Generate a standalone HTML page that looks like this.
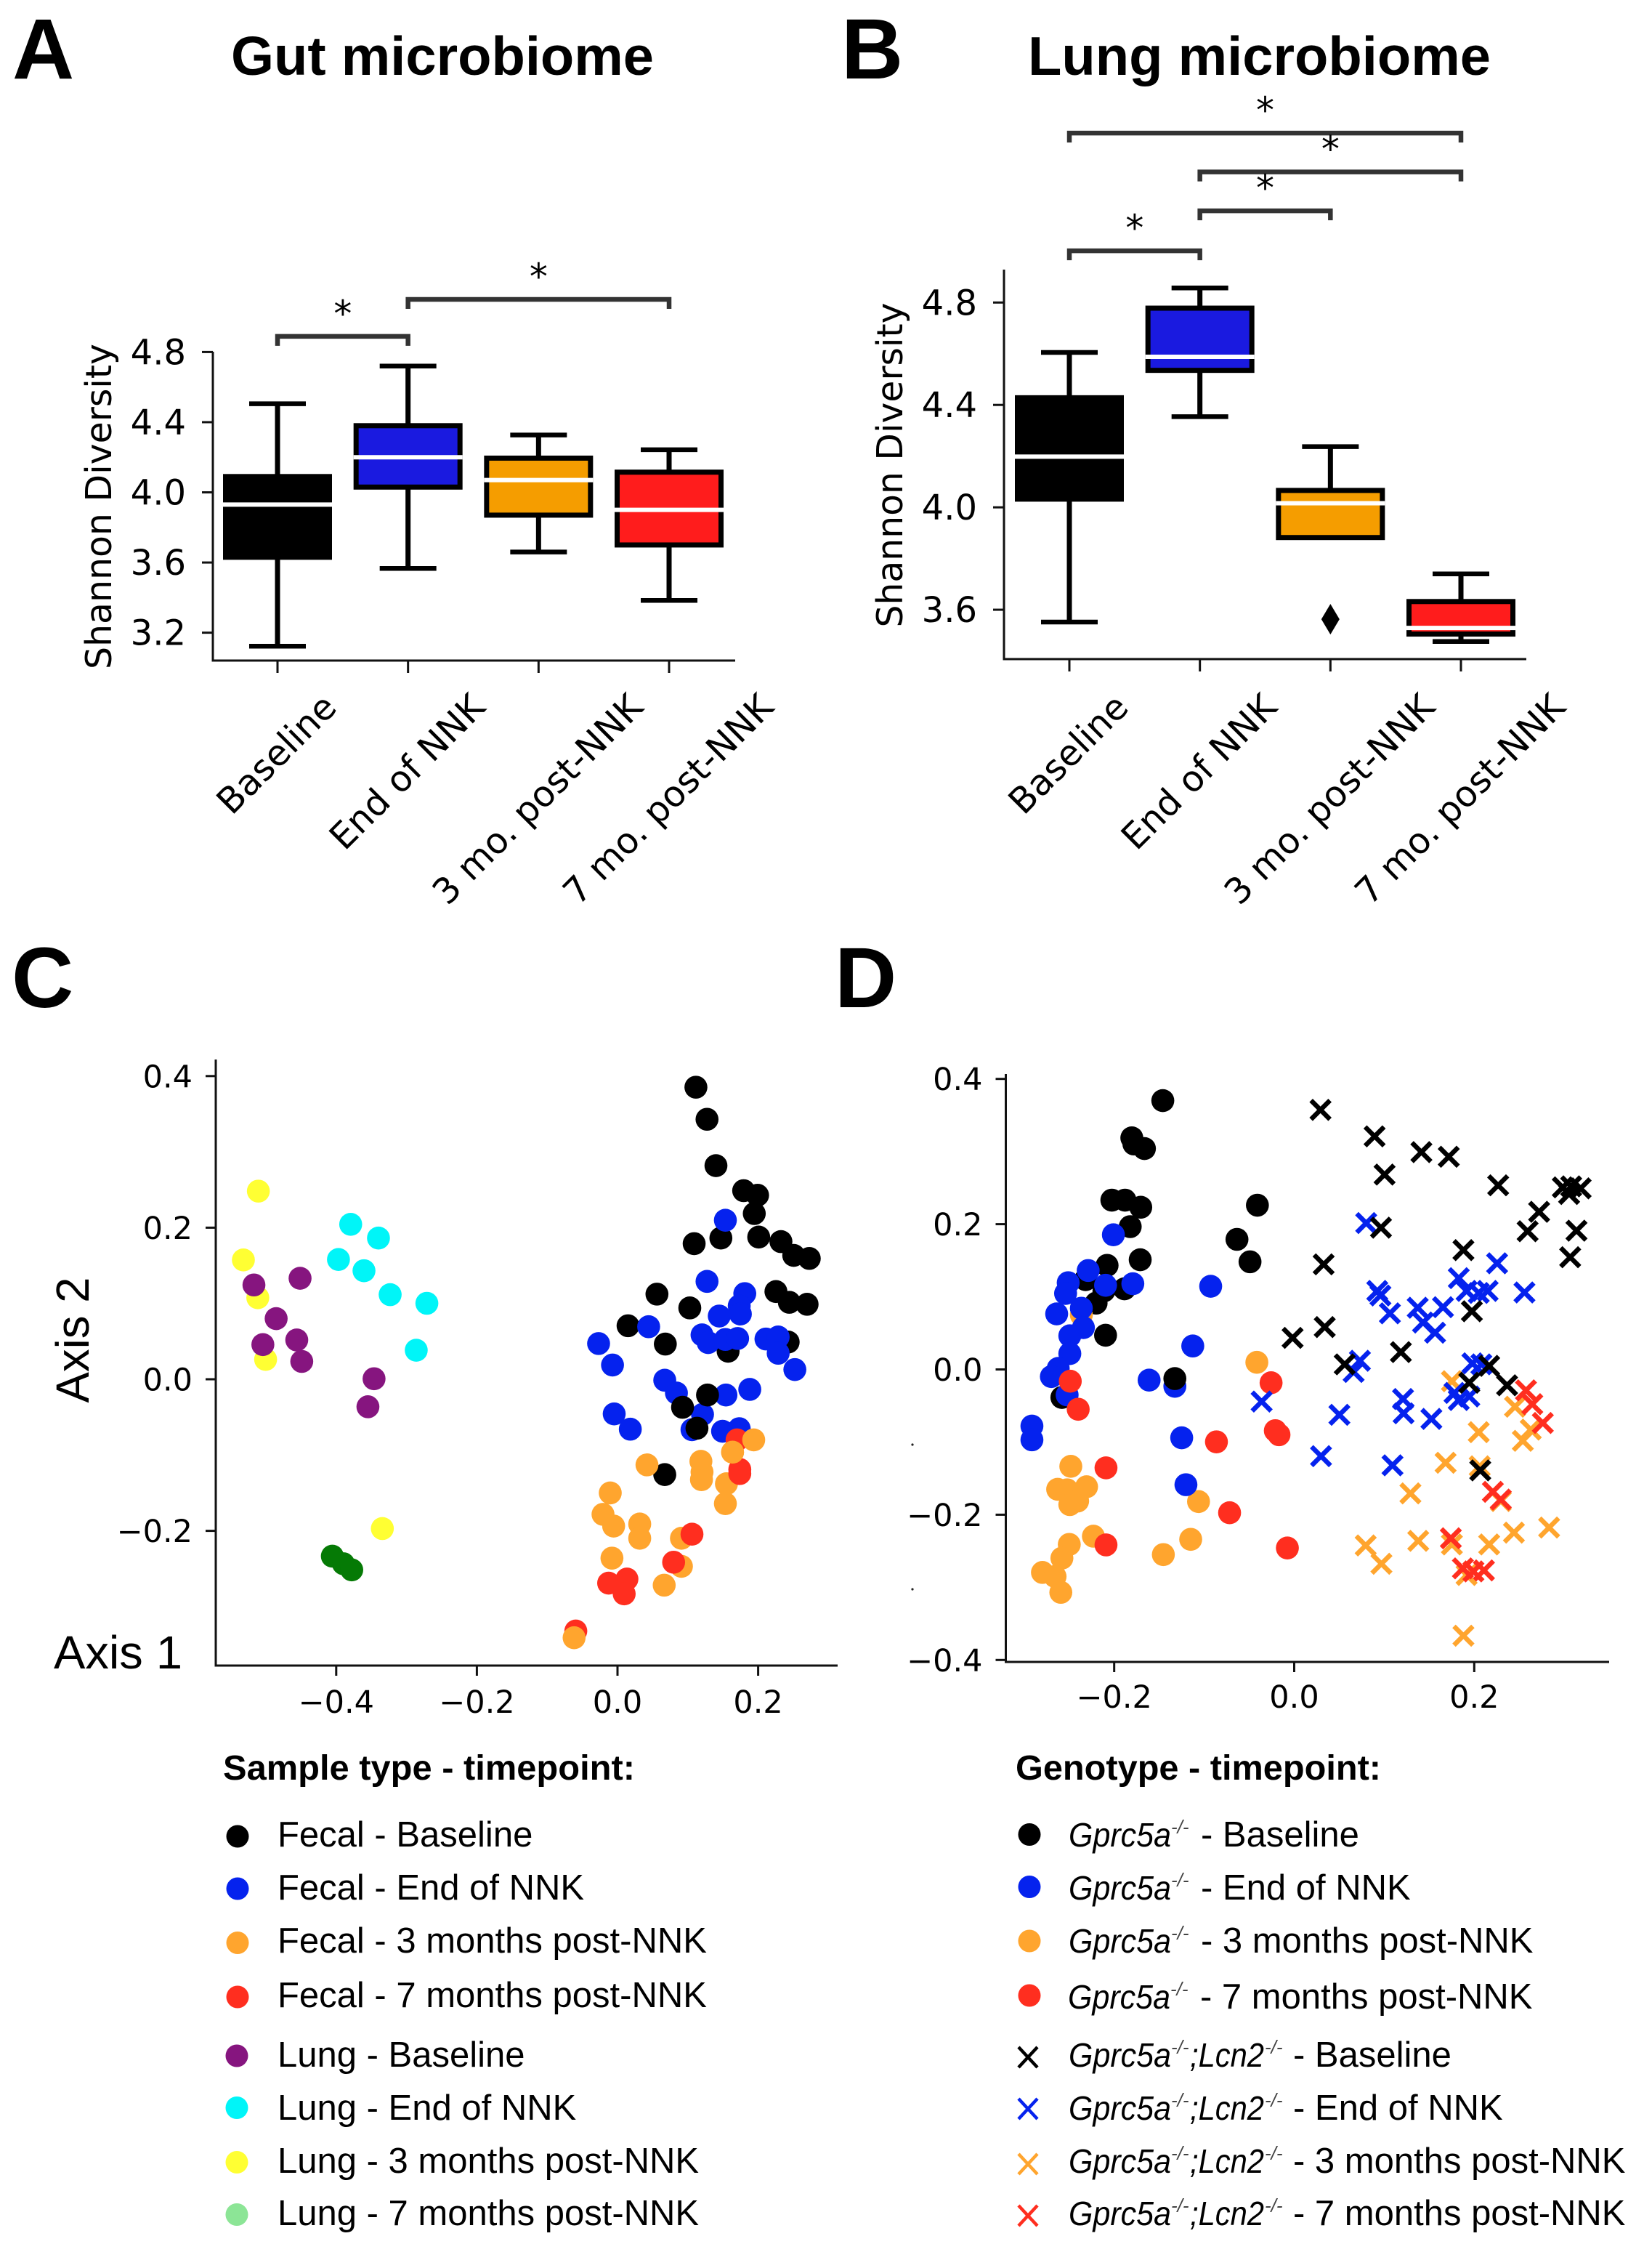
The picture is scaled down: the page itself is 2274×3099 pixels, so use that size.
<!DOCTYPE html>
<html lang="en">
<head>
<meta charset="utf-8">
<title>Gut and lung microbiome diversity</title>
<style>
html,body{margin:0;padding:0;background:#fff;}
svg{display:block;}
text{fill:#000;font-family:"Liberation Sans",sans-serif;}
.panel{font-weight:bold;font-size:118px;}
.title{font-weight:bold;font-size:75px;}
.dj text,.dj{font-family:"DejaVu Sans",sans-serif;}
.legt{font-weight:bold;font-size:48px;}
.lab{font-size:49px;}
.gene{font-size:46px;font-style:italic;}
.sup{font-size:26px;font-style:italic;fill:#444;}
</style>
</head>
<body>
<svg id="figure" xmlns="http://www.w3.org/2000/svg" width="2274" height="3099" viewBox="0 0 2274 3099">
<rect x="0" y="0" width="2274" height="3099" fill="#fff"/>

<text class="panel" x="17" y="108">A</text>
<text class="panel" x="1158" y="108">B</text>
<text class="panel" x="16" y="1386">C</text>
<text class="panel" x="1149" y="1386">D</text>

<text class="title" x="318" y="103" textLength="582" lengthAdjust="spacingAndGlyphs">Gut microbiome</text>
<text class="title" x="1415" y="103" textLength="637" lengthAdjust="spacingAndGlyphs">Lung microbiome</text>

<g id="panelA" class="dj">
  <text transform="translate(153,697) rotate(-90)" text-anchor="middle" font-size="49" textLength="448" lengthAdjust="spacingAndGlyphs">Shannon Diversity</text>
</g>
<g id="panelB" class="dj">
  <text transform="translate(1242,640) rotate(-90)" text-anchor="middle" font-size="49" textLength="447" lengthAdjust="spacingAndGlyphs">Shannon Diversity</text>
</g>

<g id="panelC" class="dj"></g>
<text transform="translate(122,1844) rotate(-90)" text-anchor="middle" font-size="64" textLength="173" lengthAdjust="spacingAndGlyphs">Axis 2</text>
<text x="74" y="2296" font-size="64" textLength="177" lengthAdjust="spacingAndGlyphs">Axis 1</text>

<g id="panelD" class="dj"></g>
<circle cx="1256" cy="1988" r="1.6" fill="#222"/>
<circle cx="1256" cy="2187" r="1.6" fill="#222"/>

<!-- Legend: sample type -->
<g>
  <text class="legt" x="307" y="2449" textLength="567" lengthAdjust="spacingAndGlyphs">Sample type - timepoint:</text>
  <g><circle cx="327" cy="2527" r="15.5" fill="#000"/><text class="lab" x="382" y="2541">Fecal - Baseline</text></g>
  <g><circle cx="327" cy="2599" r="15.5" fill="#0522ee"/><text class="lab" x="382" y="2614">Fecal - End of NNK</text></g>
  <g><circle cx="327" cy="2673.5" r="15.5" fill="#ffa52e"/><text class="lab" x="382" y="2687">Fecal - 3 months post-NNK</text></g>
  <g><circle cx="327" cy="2748" r="15.5" fill="#ff2e1f"/><text class="lab" x="382" y="2762">Fecal - 7 months post-NNK</text></g>
  <g><circle cx="326" cy="2829" r="15.5" fill="#86157f"/><text class="lab" x="382" y="2844">Lung - Baseline</text></g>
  <g><circle cx="326" cy="2900.5" r="15.5" fill="#00f5f8"/><text class="lab" x="382" y="2917">Lung - End of NNK</text></g>
  <g><circle cx="326" cy="2975.5" r="15.5" fill="#ffff33"/><text class="lab" x="382" y="2990">Lung - 3 months post-NNK</text></g>
  <g><circle cx="326" cy="3047.5" r="15.5" fill="#8ce596"/><text class="lab" x="382" y="3062">Lung - 7 months post-NNK</text></g>
</g>

<!-- Legend: genotype -->
<g>
  <text class="legt" x="1398" y="2449" textLength="503" lengthAdjust="spacingAndGlyphs">Genotype - timepoint:</text>

  <g><circle cx="1417" cy="2524.5" r="15.5" fill="#000"/>
    <text class="gene" x="1471" y="2541" textLength="141" lengthAdjust="spacingAndGlyphs">Gprc5a</text><text class="sup" x="1612" y="2523">-/-</text><text class="lab" x="1653" y="2541">- Baseline</text></g>
  <g><circle cx="1417" cy="2596.5" r="15.5" fill="#0522ee"/>
    <text class="gene" x="1471" y="2614" textLength="141" lengthAdjust="spacingAndGlyphs">Gprc5a</text><text class="sup" x="1612" y="2596">-/-</text><text class="lab" x="1653" y="2614">- End of NNK</text></g>
  <g><circle cx="1417" cy="2671" r="15.5" fill="#ffa52e"/>
    <text class="gene" x="1471" y="2687" textLength="141" lengthAdjust="spacingAndGlyphs">Gprc5a</text><text class="sup" x="1612" y="2669">-/-</text><text class="lab" x="1653" y="2687">- 3 months post-NNK</text></g>
  <g><circle cx="1417" cy="2746" r="15.5" fill="#ff2e1f"/>
    <text class="gene" x="1470" y="2764" textLength="141" lengthAdjust="spacingAndGlyphs">Gprc5a</text><text class="sup" x="1611" y="2746">-/-</text><text class="lab" x="1652" y="2764">- 7 months post-NNK</text></g>

  <g><path d="M1402,2817 L1428,2845 M1428,2817 L1402,2845" stroke="#000" stroke-width="4.5" fill="none"/>
    <text class="gene" x="1471" y="2844" textLength="141" lengthAdjust="spacingAndGlyphs">Gprc5a</text><text class="sup" x="1612" y="2826">-/-</text><text class="gene" x="1638" y="2844" textLength="102" lengthAdjust="spacingAndGlyphs">;Lcn2</text><text class="sup" x="1741" y="2826">-/-</text><text class="lab" x="1780" y="2844">- Baseline</text></g>
  <g><path d="M1402,2888 L1428,2916 M1428,2888 L1402,2916" stroke="#0522ee" stroke-width="4.5" fill="none"/>
    <text class="gene" x="1471" y="2917" textLength="141" lengthAdjust="spacingAndGlyphs">Gprc5a</text><text class="sup" x="1612" y="2899">-/-</text><text class="gene" x="1638" y="2917" textLength="102" lengthAdjust="spacingAndGlyphs">;Lcn2</text><text class="sup" x="1741" y="2899">-/-</text><text class="lab" x="1780" y="2917">- End of NNK</text></g>
  <g><path d="M1402,2964 L1428,2992 M1428,2964 L1402,2992" stroke="#ffa52e" stroke-width="4.5" fill="none"/>
    <text class="gene" x="1471" y="2990" textLength="141" lengthAdjust="spacingAndGlyphs">Gprc5a</text><text class="sup" x="1612" y="2972">-/-</text><text class="gene" x="1638" y="2990" textLength="102" lengthAdjust="spacingAndGlyphs">;Lcn2</text><text class="sup" x="1741" y="2972">-/-</text><text class="lab" x="1780" y="2990">- 3 months post-NNK</text></g>
  <g><path d="M1402,3035 L1428,3063 M1428,3035 L1402,3063" stroke="#ff2e1f" stroke-width="4.5" fill="none"/>
    <text class="gene" x="1471" y="3062" textLength="141" lengthAdjust="spacingAndGlyphs">Gprc5a</text><text class="sup" x="1612" y="3044">-/-</text><text class="gene" x="1638" y="3062" textLength="102" lengthAdjust="spacingAndGlyphs">;Lcn2</text><text class="sup" x="1741" y="3044">-/-</text><text class="lab" x="1780" y="3062">- 7 months post-NNK</text></g>
</g>
</svg>

<script>
// ---------- Box plot data ----------
const boxCategories = ['Baseline', 'End of NNK', '3 mo. post-NNK', '7 mo. post-NNK'];
const boxColors = ['#000000', '#1a1ae0', '#f59d00', '#ff1c1c'];

const gutWhiskerLow = [3.123, 3.566, 3.66, 3.384];
const gutQ1 = [3.63, 4.03, 3.87, 3.70];
const gutMedian = [3.93, 4.20, 4.07, 3.90];
const gutQ3 = [4.09, 4.38, 4.195, 4.115];
const gutWhiskerHigh = [4.505, 4.72, 4.327, 4.243];
const gutYTicks = ['3.2', '3.6', '4.0', '4.4', '4.8'];
const gutBracketFrom = [0, 1];
const gutBracketTo = [1, 3];
const gutBracketLevel = [4.889, 5.10];

const lungWhiskerLow = [3.552, 4.354, 3.882, 3.476];
const lungQ1 = [4.032, 4.535, 3.882, 3.505];
const lungMedian = [4.198, 4.588, 4.016, 3.529];
const lungQ3 = [4.428, 4.778, 4.066, 3.632];
const lungWhiskerHigh = [4.605, 4.857, 4.237, 3.74];
const lungOutlierCategory = [2];
const lungOutlierValue = [3.563];
const lungYTicks = ['3.6', '4.0', '4.4', '4.8'];
const lungBracketFrom = [0, 1, 1, 0];
const lungBracketTo = [3, 3, 2, 1];
const lungBracketLevel = [5.462, 5.31, 5.158, 5.002];

// ---------- Panel C data (axis 1, axis 2) ----------
const fecalBaseline = [[.1115,.3853],[.1273,.343],[.14,.2818],[.1794,.2488],[.1992,.2428],[.1945,.2186],[.147,.1863],[.109,.1789],[.2008,.1876],[.2324,.1816],[.2506,.1634],[.2727,.1594],[.0561,.1123],[.1028,.0941],[.2253,.1157],[.2443,.1015],[.2696,.0989],[.015,.0706],[.068,.0464],[.1573,.037],[.2427,.0491],[.0672,-.1258]];
const fecalEnd = [[.1534,.2098],[.1273,.1291],[.181,.113],[.1731,.0968],[.1447,.0834],[.1747,.0861],[.0443,.0693],[-.0269,.0471],[.1202,.0585],[.1289,.0484],[.1534,.0525],[.1708,.0538],[.2111,.0531],[.2285,.0558],[.2285,.0343],[-.0071,.0188],[.2522,.0128],[.0672,-.0013],[.0838,-.0182],[.1542,-.0208],[.1881,-.0134],[.1209,-.0464],[-.0047,-.0457],[.0182,-.0659],[.1059,-.0666],[.1494,-.0686],[.1731,-.0652]];
const fecalBaselineOverlay = [[.128,-.0208],[.0925,-.037],[.113,-.0646]];
const fecal3mo = [[.1636,-.0962],[.0419,-.113],[.1186,-.1083],[.1202,-.1224],[.1194,-.1325],[.1549,-.1379],[.1534,-.1641],[-.0103,-.15],[-.0206,-.1782],[-.0055,-.1937],[.0316,-.191],[.0316,-.2098],[.0909,-.2098],[-.0079,-.236],[.0909,-.2468],[.0664,-.2717]];
const fecal7mo = [[.17,-.08],[.1739,-.119],[.1739,-.1244],[.1059,-.2044],[.0798,-.2414],[-.0126,-.269],[.0134,-.2636],[.0095,-.2831],[-.0593,-.3322]];
const fecal3moOverlay = [[.1937,-.08],[.1636,-.0962],[-.0617,-.341]];
const lung3mo = [[-.5107,.2482],[-.532,.1574],[-.5115,.1076],[-.5004,.0262],[-.3344,-.197]];
const lungBaseline = [[-.517,.1244],[-.4514,.1332],[-.4854,.08],[-.5043,.0457],[-.4561,.0518],[-.449,.0235],[-.3462,.0007],[-.3549,-.0363]];
const lungEnd = [[-.3794,.2044],[-.3399,.1863],[-.3968,.158],[-.3605,.1432],[-.3233,.1116],[-.2711,.1002],[-.2862,.0383]];
const lung7mo = [[-.4055,-.2334],[-.3897,-.2434],[-.3779,-.2515]];
const cXTicks = ['\u22120.4', '\u22120.2', '0.0', '0.2'];
const cYTicks = ['\u22120.2', '0.0', '0.2', '0.4'];

// ---------- Panel D data (axis 1, axis 2) ----------
const gprcBaseline = [[-.146,.3701],[-.1804,.3188],[-.1781,.3104],[-.1664,.3041],[-.2026,.2331],[-.188,.2331],[-.1705,.2233],[-.1822,.1966],[-.0409,.2261],[-.0636,.1791],[-.0491,.1482],[-.1711,.151],[-.2079,.1433],[-.2318,.1236],[-.1886,.111],[-.2114,.1081],[-.2201,.0913],[-.2096,.0471],[-.2581,-.0386]];
const gprc3mo = [[-.2365,.0751],[-.0415,.0098],[-.2482,-.1334],[-.2628,-.165],[-.2523,-.1657],[-.2307,-.1615],[-.2406,-.1812],[-.2493,-.1861],[-.1063,-.1819],[-.2231,-.2296],[-.2499,-.2409],[-.2581,-.2598],[-.2797,-.2795],[-.2657,-.2851],[-.2593,-.3069],[-.1454,-.2549],[-.115,-.2339]];
const gprcEnd = [[-.2009,.1854],[-.2289,.1362],[-.2511,.1194],[-.254,.1046],[-.2096,.1159],[-.1793,.118],[-.0928,.1145],[-.2639,.0765],[-.2365,.0843],[-.2342,.0576],[-.2493,.0463],[-.2493,.0218],[-.2622,.0014],[-.2698,-.0098],[-.1127,.0323],[-.1612,-.0147],[-.1326,-.0232],[-.2523,-.0351],[-.2914,-.078],[-.2914,-.0969],[-.125,-.0941],[-.1203,-.1587]];
const gprcBaselineOverlay = [[-.1326,-.0126]];
const gprc7mo = [[-.2488,-.0162],[-.24,-.0548],[-.0257,-.0183],[-.021,-.0843],[-.0169,-.0899],[-.0864,-.0997],[-.2091,-.1355],[-.0718,-.1973],[-.2091,-.2416],[-.0076,-.2458]];
const doubleKo3mo = [[.1752,-.0162],[.2453,-.0513],[.2628,-.0829],[.254,-.0983],[.205,-.0864],[.1682,-.1285],[.2061,-.1334],[.1291,-.1706],[.0794,-.2423],[.0969,-.2676],[.1378,-.236],[.1752,-.2409],[.2166,-.2409],[.2441,-.2247],[.2832,-.2177],[.1915,-.283],[.188,-.3666],[.2295,-.1812]];
const doubleKoEnd = [[.08,.2015],[.0923,.1081],[.0958,.1018],[.1063,.0772],[.1372,.085],[.1431,.0646],[.1565,.0506],[.1653,.0857],[.1828,.1257],[.1915,.1081],[.205,.1053],[.2149,.1081],[.2254,.1461],[.2558,.106],[.073,.0119],[.066,-.0035],[-.0362,-.0442],[.0502,-.0625],[.0298,-.1194],[.1209,-.0407],[.1215,-.0604],[.1092,-.132],[.1524,-.0681],[.1781,-.0323],[.1828,-.0421],[.1945,-.0372],[.198,.0084],[.2079,.007]];
const doubleKoBaseline = [[.0292,.3574],[.0893,.3209],[.1004,.2683],[.1413,.2992],[.1717,.2928],[.2266,.2535],[.2984,.2507],[.3054,.2416],[.3077,.2521],[.3182,.2493],[.2721,.217],[.2593,.1903],[.3136,.191],[.3066,.1545],[.0964,.1952],[.188,.1643],[.0327,.1447],[.1974,.0801],[.0339,.0583],[-.0018,.0435],[.0561,.007],[.1185,.0239],[.2166,.0049],[.1945,-.0183],[.2365,-.0218],[.2067,-.139]];
const doubleKo7mo = [[.2575,-.0288],[.2645,-.0478],[.2762,-.0737],[.2207,-.1685],[.2295,-.1791],[.174,-.2324],[.1874,-.2739],[.1991,-.2781],[.2108,-.2767]];
const dXTicks = ['\u22120.2', '0.0', '0.2'];
const dYTicks = ['\u22120.4', '\u22120.2', '0.0', '0.2', '0.4'];

// ---------- Axis functions ----------
const NS = 'http://www.w3.org/2000/svg';
function make(parent, tag, attrs, text) {
  const node = document.createElementNS(NS, tag);
  for (const key in attrs) node.setAttribute(key, attrs[key]);
  if (text !== undefined) node.textContent = text;
  parent.appendChild(node);
  return node;
}
function num(label) { return parseFloat(String(label).replace('\u2212', '-')); }

const gutX = i => 382 + i * 179.67;
const gutY = v => 484.4 + (4.8 - v) * 241.4;
const lungX = i => 1472 + i * 179.67;
const lungY = v => 416.3 + (4.8 - v) * 352.3;
const cX = v => 850 + v * 968;
const cY = v => 1898 - v * 1043;
const dX = v => 1781.5 + v * 1239;
const dY = v => 1884.5 - v * 999.5;

function line(parent, x1, y1, x2, y2, color, width) {
  const l = make(parent, 'line', {x1: x1, y1: y1, x2: x2, y2: y2, stroke: color, 'stroke-width': width});
  
  return l;
}

function drawBoxPanel(root, xs, ys, low, q1, med, q3, high, yTicks, axis, from, to, level) {
  const spineY = line(root, axis.left, axis.top, axis.left, axis.bottom + 1.5, '#111', 3);
  
  const spineX = line(root, axis.left, axis.bottom, axis.right, axis.bottom, '#111', 3);
  

  yTicks.forEach(label => {
    const y = ys(num(label));
    const tick = line(root, axis.left - 15, y, axis.left, y, '#111', 3);
    
    const t = make(root, 'text', {x: axis.left - 37, y: y + 17, 'text-anchor': 'end', 'font-size': 48}, label);
    
    
  });

  boxCategories.forEach((label, i) => {
    const cx = xs(i);
    const tick = line(root, cx, axis.bottom, cx, axis.bottom + 17, '#111', 3);
    
    const t = make(root, 'text', {'text-anchor': 'middle', 'font-size': 49, dy: '0.36em'}, label);
    
    
    const L = t.getComputedTextLength();
    t.setAttribute('transform', 'translate(' + (cx - 2) + ',' + (945 + (L + 53) * 0.3535) + ') rotate(-45)');

    const whisker = line(root, cx, ys(high[i]), cx, ys(low[i]), '#000', 7);
    
    const capHigh = line(root, cx - 39, ys(high[i]), cx + 39, ys(high[i]), '#000', 6.5);
    
    const capLow = line(root, cx - 39, ys(low[i]), cx + 39, ys(low[i]), '#000', 6.5);
    
    const box = make(root, 'rect', {x: cx - 71.5, y: ys(q3[i]), width: 143, height: ys(q1[i]) - ys(q3[i]), fill: boxColors[i], stroke: '#000', 'stroke-width': 7});
    
    
    const median = line(root, cx - 75, ys(med[i]), cx + 75, ys(med[i]), '#fff', 6);
    
  });

  from.forEach((a, k) => {
    const x1 = xs(a), x2 = xs(to[k]), y = ys(level[k]);
    const bracket = make(root, 'path', {d: 'M' + x1 + ',' + (y + 13) + ' V' + y + ' H' + x2 + ' V' + (y + 13), fill: 'none', stroke: '#333', 'stroke-width': 6.5});
    
    
    const star = make(root, 'text', {x: (x1 + x2) / 2, y: y - 38 + 24, 'text-anchor': 'middle', 'font-size': 50}, '*');
    
    
  });
}

function drawScatterAxes(root, xs, ys, xTicks, yTicks, axis) {
  const spineY = line(root, axis.left, axis.top, axis.left, axis.bottom + 1.5, '#111', 3);
  
  const spineX = line(root, axis.left, axis.bottom, axis.right, axis.bottom, '#111', 3);
  
  xTicks.forEach(label => {
    const x = xs(num(label));
    const tick = line(root, x, axis.bottom, x, axis.bottom + 14, '#111', 3);
    
    const t = make(root, 'text', {x: x, y: axis.labelY, 'text-anchor': 'middle', 'font-size': 43}, label);
    
    
  });
  yTicks.forEach(label => {
    const y = ys(num(label));
    const tick = line(root, axis.left - 14, y, axis.left, y, '#111', 3);
    
    const t = make(root, 'text', {x: axis.left - 32, y: y + 15.5, 'text-anchor': 'end', 'font-size': 43}, label);
    
    
  });
}

function drawCircles(root, points, xs, ys, color) {
  points.forEach(p => {
    const c = make(root, 'circle', {cx: xs(p[0]), cy: ys(p[1]), r: 15.8, fill: color});
    
    
  });
}

function drawCrosses(root, points, xs, ys, color) {
  points.forEach(p => {
    const x = xs(p[0]), y = ys(p[1]), h = 13;
    const m = make(root, 'path', {d: 'M' + (x - h) + ',' + (y - h) + ' L' + (x + h) + ',' + (y + h) + ' M' + (x + h) + ',' + (y - h) + ' L' + (x - h) + ',' + (y + h), stroke: color, 'stroke-width': 6.5, fill: 'none'});
    
    
  });
}

// ---------- Draw ----------
const panelA = document.getElementById('panelA');
const panelB = document.getElementById('panelB');
const panelC = document.getElementById('panelC');
const panelD = document.getElementById('panelD');

drawBoxPanel(panelA, gutX, gutY, gutWhiskerLow, gutQ1, gutMedian, gutQ3, gutWhiskerHigh, gutYTicks,
  {left: 293, right: 1012, top: 484, bottom: 909}, gutBracketFrom, gutBracketTo, gutBracketLevel);
drawBoxPanel(panelB, lungX, lungY, lungWhiskerLow, lungQ1, lungMedian, lungQ3, lungWhiskerHigh, lungYTicks,
  {left: 1382, right: 2101, top: 371, bottom: 907}, lungBracketFrom, lungBracketTo, lungBracketLevel);

lungOutlierValue.forEach((v, i) => {
  const x = lungX(lungOutlierCategory[i]), y = lungY(v);
  const d = make(panelB, 'path', {d: 'M' + x + ',' + (y - 21) + ' L' + (x + 12.5) + ',' + y + ' L' + x + ',' + (y + 21) + ' L' + (x - 12.5) + ',' + y + ' Z', fill: '#000'});
  
  
});

drawScatterAxes(panelC, cX, cY, cXTicks, cYTicks, {left: 297, right: 1153, top: 1458, bottom: 2292, labelY: 2357});
drawCircles(panelC, fecalBaseline, cX, cY, '#000');
drawCircles(panelC, fecalEnd, cX, cY, '#0522ee');
drawCircles(panelC, fecalBaselineOverlay, cX, cY, '#000');
drawCircles(panelC, fecal3mo, cX, cY, '#ffa52e');
drawCircles(panelC, fecal7mo, cX, cY, '#ff2e1f');
drawCircles(panelC, fecal3moOverlay, cX, cY, '#ffa52e');
drawCircles(panelC, lung3mo, cX, cY, '#ffff33');
drawCircles(panelC, lungBaseline, cX, cY, '#86157f');
drawCircles(panelC, lungEnd, cX, cY, '#00f5f8');
drawCircles(panelC, lung7mo, cX, cY, '#057a05');

drawScatterAxes(panelD, dX, dY, dXTicks, dYTicks, {left: 1384.5, right: 2215, top: 1478, bottom: 2287, labelY: 2350});
drawCircles(panelD, gprcBaseline, dX, dY, '#000');
drawCircles(panelD, gprc3mo, dX, dY, '#ffa52e');
drawCircles(panelD, gprcEnd, dX, dY, '#0522ee');
drawCircles(panelD, gprcBaselineOverlay, dX, dY, '#000');
drawCircles(panelD, gprc7mo, dX, dY, '#ff2e1f');
drawCrosses(panelD, doubleKo3mo, dX, dY, '#ffa52e');
drawCrosses(panelD, doubleKoEnd, dX, dY, '#0522ee');
drawCrosses(panelD, doubleKoBaseline, dX, dY, '#000');
drawCrosses(panelD, doubleKo7mo, dX, dY, '#ff2e1f');
</script>
</body>
</html>
